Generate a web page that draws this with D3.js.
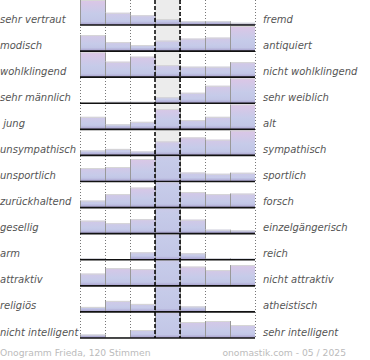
<!DOCTYPE html>
<html><head><meta charset="utf-8">
<script src="https://cdn.jsdelivr.net/npm/d3@7"></script>
<style>
body{margin:0;background:#fff;}
svg text{white-space:pre;}
</style></head>
<body><svg id="chart" width="370" height="360"></svg>
<script>
const leftLabels = ["sehr vertraut","modisch","wohlklingend","sehr männlich"," jung","unsympathisch","unsportlich","zurückhaltend","gesellig","arm","attraktiv","religiös","nicht intelligent"];
const rightLabels = ["fremd","antiquiert","nicht wohlklingend","sehr weiblich","alt","sympathisch","sportlich","forsch","einzelgängerisch","reich","nicht attraktiv","atheistisch","sehr intelligent"];
const columns = [1,2,3,4,5,6,7];
// relative bar heights per row (100 = full row height; larger values are clipped)
const r0 = [100,49,39,24,15,15,9];
const r1 = [64,36,24,42,50,54,100];
const r2 = [100,62,82,48,42,42,60];
const r3 = [0,6,6,24,42,70,100];
const r4 = [50,20,30,81,37,50,100];
const r5 = [20,26,16,56,72,63,100];
const r6 = [54,58,90,180,36,31,35];
const r7 = [28,54,80,180,62,54,56];
const r8 = [52,42,58,180,56,16,13];
const r9 = [6,2,30,180,26,6,5];
const r10 = [49,71,67,180,77,63,83];
const r11 = [20,44,32,180,22,0,4];
const r12 = [14,2,32,180,64,68,52];
const rows = [r0,r1,r2,r3,r4,r5,r6,r7,r8,r9,r10,r11,r12];
const footerLeft = "Onogramm Frieda, 120 Stimmen";
const footerRight = "onomastik.com - 05 / 2025";

const svg = d3.select("#chart");
const x = d3.scaleBand().domain(columns).range([80,255]).padding(0);
const yRow = d3.scalePoint().domain(d3.range(rows.length)).range([25,338]);
const h = d3.scaleLinear().domain([0,100]).range([0,25]);
const rowH = 25;
const defs = svg.append("defs");

// center column background
svg.append("rect").attr("x",x(4)).attr("y",0).attr("width",x.bandwidth())
  .attr("height",yRow(rows.length-1)).attr("fill","#ececec");

// dotted grid lines
const dotted = [x(1),x(2),x(3),x(5),x(6),x(7)+x.bandwidth()];
svg.selectAll("line.dot").data(dotted).enter().append("line")
  .attr("x1",d=>d+0.5).attr("x2",d=>d+0.5).attr("y1",0).attr("y2",yRow(rows.length-1))
  .attr("stroke","#777").attr("stroke-width",1).attr("stroke-dasharray","1,2");

const pink = "#dcc6e6", blue = "#c6cbe9", purple = "#a69dcb";
rows.forEach((vals,ri)=>{
  const base = yRow(ri);
  const cid = "clip"+ri;
  defs.append("clipPath").attr("id",cid).append("rect")
    .attr("x",x(1)).attr("y",base-rowH).attr("width",x.bandwidth()*7).attr("height",rowH);
  const g = svg.append("g").attr("clip-path",`url(#${cid})`);
  vals.forEach((v,ci)=>{
    if(v<=0) return;
    const bh = h(v);
    const top = base-bh;
    const gid = `gr${ri}_${ci}`;
    const topCol = d3.interpolateRgb(blue,pink)(Math.min(v,100)/100);
    const grad = defs.append("linearGradient").attr("id",gid)
      .attr("gradientUnits","userSpaceOnUse").attr("x1",0).attr("x2",0).attr("y1",top).attr("y2",base);
    const bandOff = Math.max(0,1-3.5/bh);
    grad.append("stop").attr("offset",0).attr("stop-color",topCol);
    grad.append("stop").attr("offset",Math.min(bandOff,0.55)).attr("stop-color",blue);
    grad.append("stop").attr("offset",bandOff).attr("stop-color","#c2c6e6");
    grad.append("stop").attr("offset",1).attr("stop-color",purple);
    const xl = x(columns[ci]);
    g.append("rect").attr("x",xl).attr("y",top).attr("width",x.bandwidth()).attr("height",bh)
      .attr("fill",`url(#${gid})`);
    g.append("line").attr("x1",xl).attr("x2",xl+x.bandwidth()).attr("y1",top+0.5).attr("y2",top+0.5)
      .attr("stroke","#d6d6d6").attr("stroke-width",1);
    [xl, xl+x.bandwidth()].forEach(xx=>{
      g.append("line").attr("x1",xx+0.5).attr("x2",xx+0.5).attr("y1",top).attr("y2",base)
        .attr("stroke","#999").attr("stroke-width",1);
    });
  });
  svg.append("line").attr("x1",x(1)).attr("x2",x(7)+x.bandwidth()).attr("y1",base).attr("y2",base)
    .attr("stroke","#111").attr("stroke-width",1.6);
});

// dashed center lines
[x(4), x(5)].forEach(xx=>{
  svg.append("line").attr("x1",xx).attr("x2",xx).attr("y1",0).attr("y2",yRow(rows.length-1))
    .attr("stroke","#000").attr("stroke-width",1.5).attr("stroke-dasharray","4,2");
});

// labels
svg.selectAll("text.l").data(leftLabels).enter().append("text")
  .attr("x",0).attr("y",(d,i)=>yRow(i)-2.5).text(d=>d)
  .attr("font-family","DejaVu Sans").attr("font-style","italic").attr("font-size",10)
  .attr("fill","#555");
svg.selectAll("text.r").data(rightLabels).enter().append("text")
  .attr("x",263).attr("y",(d,i)=>yRow(i)-2.5).text(d=>d)
  .attr("font-family","DejaVu Sans").attr("font-style","italic").attr("font-size",10)
  .attr("fill","#555");

svg.append("text").attr("x",0).attr("y",356).text(footerLeft)
  .attr("font-family","DejaVu Sans").attr("font-size",9.2).attr("fill","#bbb");
svg.append("text").attr("x",346).attr("y",356).attr("text-anchor","end").text(footerRight)
  .attr("font-family","DejaVu Sans").attr("font-size",9.2).attr("fill","#bbb");
</script></body></html>
